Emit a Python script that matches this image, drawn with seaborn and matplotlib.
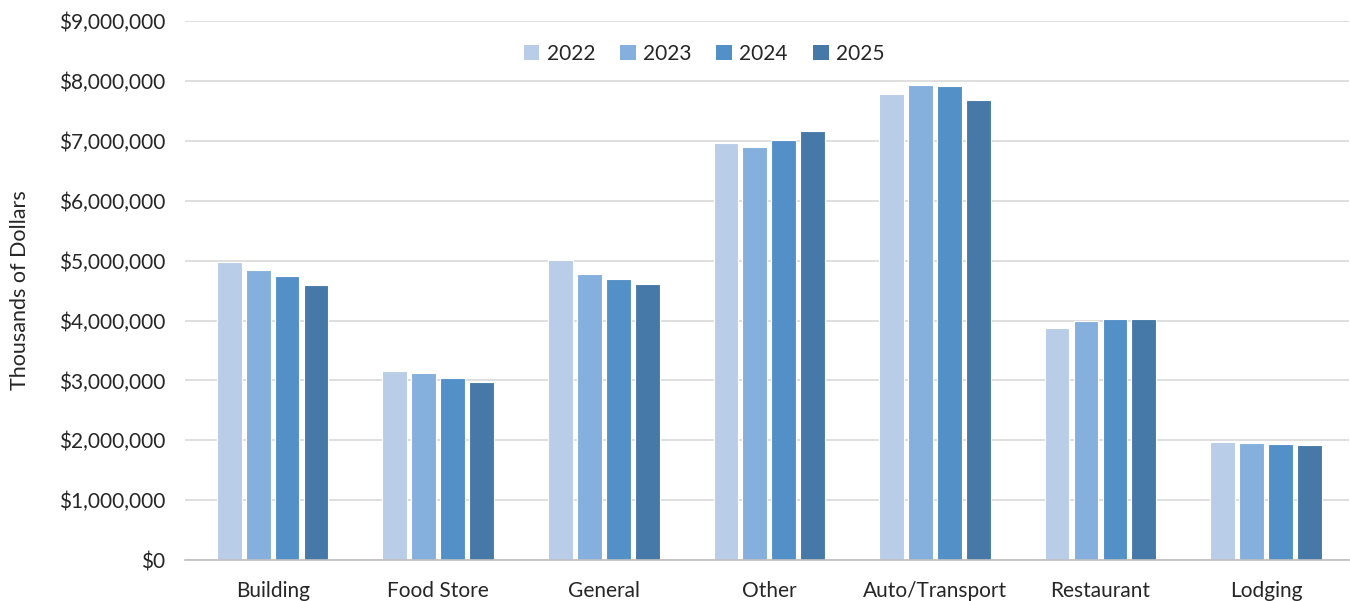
import matplotlib
matplotlib.use("Agg")
import matplotlib.pyplot as plt
import seaborn as sns
import pandas as pd
from matplotlib.ticker import FuncFormatter
from matplotlib.patches import Patch

categories = ["Building", "Food Store", "General", "Other", "Auto/Transport", "Restaurant", "Lodging"]
years = ["2022", "2023", "2024", "2025"]
sales_2022 = [4970000, 3160000, 5010000, 6970000, 7790000, 3880000, 1975000]
sales_2023 = [4850000, 3120000, 4780000, 6895000, 7930000, 3995000, 1953000]
sales_2024 = [4750000, 3045000, 4690000, 7020000, 7910000, 4020000, 1937000]
sales_2025 = [4595000, 2980000, 4610000, 7170000, 7690000, 4020000, 1915000]
colors = ["#B9CDE8", "#85AFDC", "#5390C7", "#4679A8"]

rows = []
for yr, vals in zip(years, [sales_2022, sales_2023, sales_2024, sales_2025]):
    for cat, v in zip(categories, vals):
        rows.append({"Category": cat, "Year": yr, "Sales": v})
df = pd.DataFrame(rows)

sns.set_theme(style="white")
plt.rcParams["font.family"] = ["Lato", "DejaVu Sans"]

fig = plt.figure(figsize=(13.5, 6.01), dpi=100)
ax = fig.add_axes([0.137, 0.068, 0.862, 0.897])

sns.barplot(data=df, x="Category", y="Sales", hue="Year", order=categories,
            hue_order=years, palette=colors, width=0.7, gap=0.15,
            edgecolor="white", linewidth=0.8, saturation=1, ax=ax, legend=False)

ax.set_ylim(0, 9000000)
ax.set_xlim(-0.53, 6.5)
ax.set_yticks(range(0, 9000001, 1000000))
ax.yaxis.set_major_formatter(FuncFormatter(lambda v, p: f"${v:,.0f}"))
ax.yaxis.grid(True, color="#D9D9D9", linewidth=1.2)
ax.set_axisbelow(True)
for s in ["left", "right", "top"]:
    ax.spines[s].set_visible(False)
ax.spines["bottom"].set_color("#BFBFBF")
ax.spines["bottom"].set_linewidth(1.2)
ax.tick_params(axis="both", length=0, labelsize=15, colors="#262626")
ax.tick_params(axis="x", pad=15)
ax.tick_params(axis="y", pad=14)
ax.set_xlabel("")
ax.set_ylabel("Thousands of Dollars", fontsize=15.5, color="#262626", labelpad=21)

handles = [Patch(facecolor=c, edgecolor="none") for c in colors]
leg = ax.legend(handles, years, loc="upper center", bbox_to_anchor=(0.446, 0.993),
                ncol=4, frameon=False, fontsize=15, handlelength=0.75,
                handleheight=0.75, handletextpad=0.35, columnspacing=1.2)
for t in leg.get_texts():
    t.set_color("#262626")

fig.savefig("out.png", dpi=100)
